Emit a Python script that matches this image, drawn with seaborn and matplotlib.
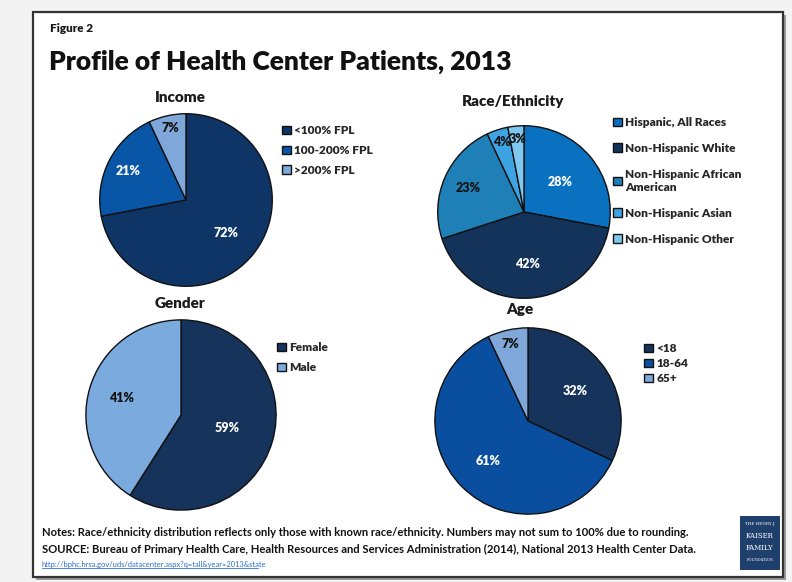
import matplotlib
matplotlib.use("Agg")
import matplotlib.pyplot as plt
import seaborn as sns
from matplotlib.patches import Rectangle

sns.set_theme(style="white")
plt.rcParams['font.family'] = ['Lato', 'DejaVu Sans']

# ---- data ----
income_labels = ["<100% FPL", "100-200% FPL", ">200% FPL"]
income_values = [72, 21, 7]
race_labels = ["Hispanic, All Races", "Non-Hispanic White", "Non-Hispanic African\nAmerican",
               "Non-Hispanic Asian", "Non-Hispanic Other"]
race_values = [28, 42, 23, 4, 3]
gender_labels = ["Female", "Male"]
gender_values = [59, 41]
age_labels = ["<18", "18-64", "65+"]
age_values = [32, 61, 7]

income_colors = ["#0e3566", "#0a56a6", "#7fa7da"]
race_colors = ["#0a70c0", "#14335b", "#1f80b8", "#3ea3e2", "#7ec8ef"]
gender_colors = ["#15335b", "#7aaade"]
age_colors = ["#15335b", "#0a4f9f", "#7fa7da"]

W, H = 792, 582
fig = plt.figure(figsize=(W / 100, H / 100), dpi=100)
fig.patch.set_facecolor("#f3f3f3")

def fx(x): return x / W
def fy(y): return 1 - y / H

# frame
frame = fig.add_axes([0, 0, 1, 1])
frame.set_xlim(0, W); frame.set_ylim(H, 0); frame.axis("off")
frame.add_patch(Rectangle((36, 15), 750, 565, facecolor="#9a9a9a", edgecolor="none", zorder=0))
frame.add_patch(Rectangle((33, 12), 750, 565, facecolor="white", edgecolor="#333333", lw=1.6, zorder=1))

def pie(cx, cy, r, values, colors, txtcolors, dists, labels, title, tx, ty,
        legx, legy, legspacing):
    ax = fig.add_axes([fx(cx - r), fy(cy + r), 2 * r / W, 2 * r / H])
    ax.set_aspect("equal")
    vals = list(values)
    it = iter(vals)
    wedges, texts, autotexts = ax.pie(
        vals, colors=colors, startangle=90, counterclock=False,
        wedgeprops=dict(edgecolor="#111111", linewidth=1.0),
        autopct=lambda p: f"{next(it)}%", pctdistance=0.6,
        textprops=dict(fontsize=9, fontweight="heavy"))
    for t, c, d in zip(autotexts, txtcolors, dists):
        x, y = t.get_position()
        t.set_position((x * d / 0.6, y * d / 0.6))
        t.set_color(c)
    ax.set_xlim(-1.02, 1.02); ax.set_ylim(-1.02, 1.02)
    fig.text(fx(tx), fy(ty), title, ha="center", va="center", fontsize=11,
             fontweight="heavy", color="#1a1a1a")
    leg = fig.legend(wedges, labels, loc="upper left",
                     bbox_to_anchor=(fx(legx), fy(legy)), frameon=False,
                     handlelength=0.72, handleheight=0.72, handletextpad=0.3,
                     labelspacing=legspacing, borderaxespad=0, borderpad=0,
                     prop=dict(size=8.6, weight="heavy"))
    for h in leg.legend_handles:
        h.set_edgecolor("#111111"); h.set_linewidth(1.0)
    return ax

pie(186, 200, 88, income_values, income_colors, ["white", "white", "#111111"],
    [0.6, 0.75, 0.86], income_labels, "Income", 180, 97, 282, 125, 0.75)
pie(524, 212, 88, race_values, race_colors,
    ["white", "white", "#111111", "#111111", "#111111"],
    [0.55, 0.6, 0.7, 0.85, 0.85], race_labels, "Race/Ethnicity", 513, 102, 613, 117, 1.25)
pie(181, 415, 97, gender_values, gender_colors, ["white", "#111111"],
    [0.5, 0.65], gender_labels, "Gender", 180, 303, 277, 342, 0.75)
pie(528, 421, 95, age_values, age_colors, ["white", "white", "#111111"],
    [0.6, 0.6, 0.85], age_labels, "Age", 520, 310, 644, 343, 0.35)

# titles
fig.text(fx(50), fy(29), "Figure 2", fontsize=8.5, fontweight="heavy", va="center", color="#1a1a1a")
fig.text(fx(49), fy(62), "Profile of Health Center Patients, 2013", fontsize=19,
         fontweight="heavy", va="center", color="#111111")

# notes
notes_kw = dict(fontsize=8.1, va="center", color="#111111", fontweight="bold")
fig.text(fx(42), fy(533), "Notes: Race/ethnicity distribution reflects only those with known race/ethnicity. "
         "Numbers may not sum to 100% due to rounding.", **notes_kw)
fig.text(fx(42), fy(549), "SOURCE: Bureau of Primary Health Care, Health Resources and Services Administration "
         "(2014), National 2013 Health Center Data.", **notes_kw)
fig.text(fx(42), fy(564), "http://bphc.hrsa.gov/uds/datacenter.aspx?q=tall&year=2013&state",
         fontsize=5.4, va="center", color="#2a6fd0")
frame.plot([42, 258], [568, 568], color="#2a6fd0", lw=0.6)

# logo
frame.add_patch(Rectangle((740, 516), 40, 54, facecolor="#1f3f6d", edgecolor="none", zorder=2))
for yy, s, fs in [(524, "THE HENRY J.", 3.0), (536, "KAISER", 5.0), (548, "FAMILY", 5.0), (560, "FOUNDATION", 2.6)]:
    frame.text(760, yy, s, ha="center", va="center", fontsize=fs, color="white",
               family="DejaVu Serif", zorder=3)

fig.savefig("out.png", dpi=100, facecolor=fig.get_facecolor())
